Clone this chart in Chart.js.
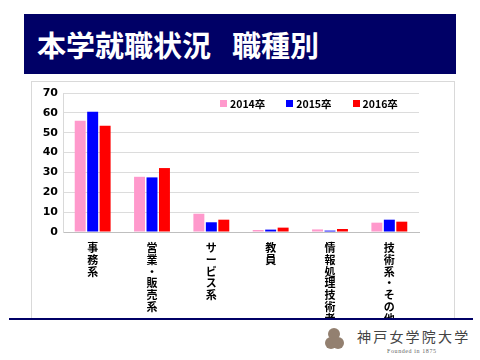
<!DOCTYPE html>
<html>
<head>
<meta charset="utf-8">
<style>
    body { margin: 0; width: 480px; height: 360px; background: #fff; position: relative; overflow: hidden; font-family: "Noto Sans CJK JP", sans-serif; }
    #title { position: absolute; left: 24px; top: 14px; width: 432px; height: 60px; background: #000066; }
    #title span { position: absolute; top: 0; line-height: 60px; color: #fff; font-weight: bold; font-size: 29px; }
    #box { position: absolute; left: 31px; top: 81px; width: 424px; height: 238px; border: 1px solid #d9d9d9; box-sizing: border-box; }
    #chartWrap { position: absolute; left: 31px; top: 81px; width: 424px; height: 238px; }
    #legend { position: absolute; left: 220px; top: 96px; height: 14px; display: flex; align-items: center; font-size: 10.5px; font-weight: bold; color: #000; }
    #legend .item { display: flex; align-items: center; margin-right: 21px; }
    #legend .sw { width: 7px; height: 7px; margin-right: 3px; }
    #rule { position: absolute; left: 9px; top: 318px; width: 464px; height: 2px; background: #000066; }
    #emblem { position: absolute; left: 325px; top: 328px; width: 19px; height: 24px; }
    #emblem div { position: absolute; width: 12px; height: 12px; border-radius: 50%; background: #938070; }
    #uni { position: absolute; left: 357px; top: 327px; font-size: 14px; letter-spacing: 2.2px; color: #444; line-height: 18px; }
    #founded { position: absolute; left: 387px; top: 348px; font-family: "Liberation Serif", serif; font-size: 6px; letter-spacing: 0.6px; color: #666; }
</style>
</head>
<body>
<div id="title"><span style="left:13px">本学就職状況</span><span style="left:208px">職種別</span></div>
<div id="box"></div>
<div id="chartWrap"><canvas id="jobChart" width="424" height="238"></canvas></div>
<div id="legend"></div>
<div id="rule"></div>
<div id="emblem">
    <div style="left:3px;top:0"></div>
    <div style="left:0;top:9px"></div>
    <div style="left:7px;top:9px"></div>
</div>
<div id="uni">神戸女学院大学</div>
<div id="founded">Founded in 1875</div>

<script src="https://cdn.jsdelivr.net/npm/chart.js"></script>
<script>
    const categories = ['事務系', '営業・販売系', 'サービス系', '教員', '情報処理技術者', '技術系・その他'];
    const seriesNames = ['2014卒', '2015卒', '2016卒'];
    const values2014 = [56, 27.8, 9.2, 1.0, 1.3, 4.7];
    const values2015 = [60.5, 27.5, 4.9, 1.2, 0.7, 6.2];
    const values2016 = [53.5, 32.2, 6.2, 2.2, 1.5, 5.2];
    const yTicks = [0, 10, 20, 30, 40, 50, 60, 70];

    (() => {
        const colours = ['#ff99cc', '#0000ff', '#ff0000'];
        const seriesValues = [values2014, values2015, values2016];

        // legend drawn as html so it can sit inside the plot like the original
        const legend = document.getElementById('legend');
        seriesNames.forEach((name, i) => {
            const item = document.createElement('div');
            item.className = 'item';
            item.innerHTML = '<div class="sw" style="background:' + colours[i] + '"></div>' + name;
            legend.appendChild(item);
        });

        const ctx = document.getElementById('jobChart').getContext('2d');
        new Chart(ctx, {
            type: 'bar',
            data: {
                // one character per line, like vertical writing
                labels: categories.map(c => c.split('')),
                datasets: seriesNames.map((name, i) => ({
                    label: name,
                    data: seriesValues[i],
                    backgroundColor: colours[i],
                    categoryPercentage: 0.63,
                    barPercentage: 0.88
                }))
            },
            options: {
                responsive: false,
                animation: false,
                devicePixelRatio: 1,
                layout: { padding: { top: 12, right: 36, left: 0, bottom: 0 } },
                plugins: {
                    legend: { display: false },
                    tooltip: { enabled: false }
                },
                scales: {
                    x: {
                        grid: { display: false },
                        border: { color: '#bfbfbf' },
                        ticks: {
                            autoSkip: false,
                            maxRotation: 0,
                            minRotation: 0,
                            padding: 2,
                            color: '#000',
                            font: { family: '"Noto Sans CJK JP"', size: 11, weight: 'bold', lineHeight: 1.07 }
                        },
                        afterFit: s => { s.height = 87; }
                    },
                    y: {
                        min: yTicks[0],
                        max: yTicks[yTicks.length - 1],
                        afterBuildTicks: s => { s.ticks = yTicks.map(v => ({ value: v })); },
                        grid: { color: '#dcdcdc', drawTicks: false },
                        border: { color: '#d9d9d9' },
                        ticks: {
                            padding: 5,
                            color: '#000',
                            font: { family: '"DejaVu Sans"', size: 11, weight: 'bold' }
                        },
                        afterFit: s => { s.width = 32; }
                    }
                }
            }
        });
    })();
</script>
</body>
</html>
